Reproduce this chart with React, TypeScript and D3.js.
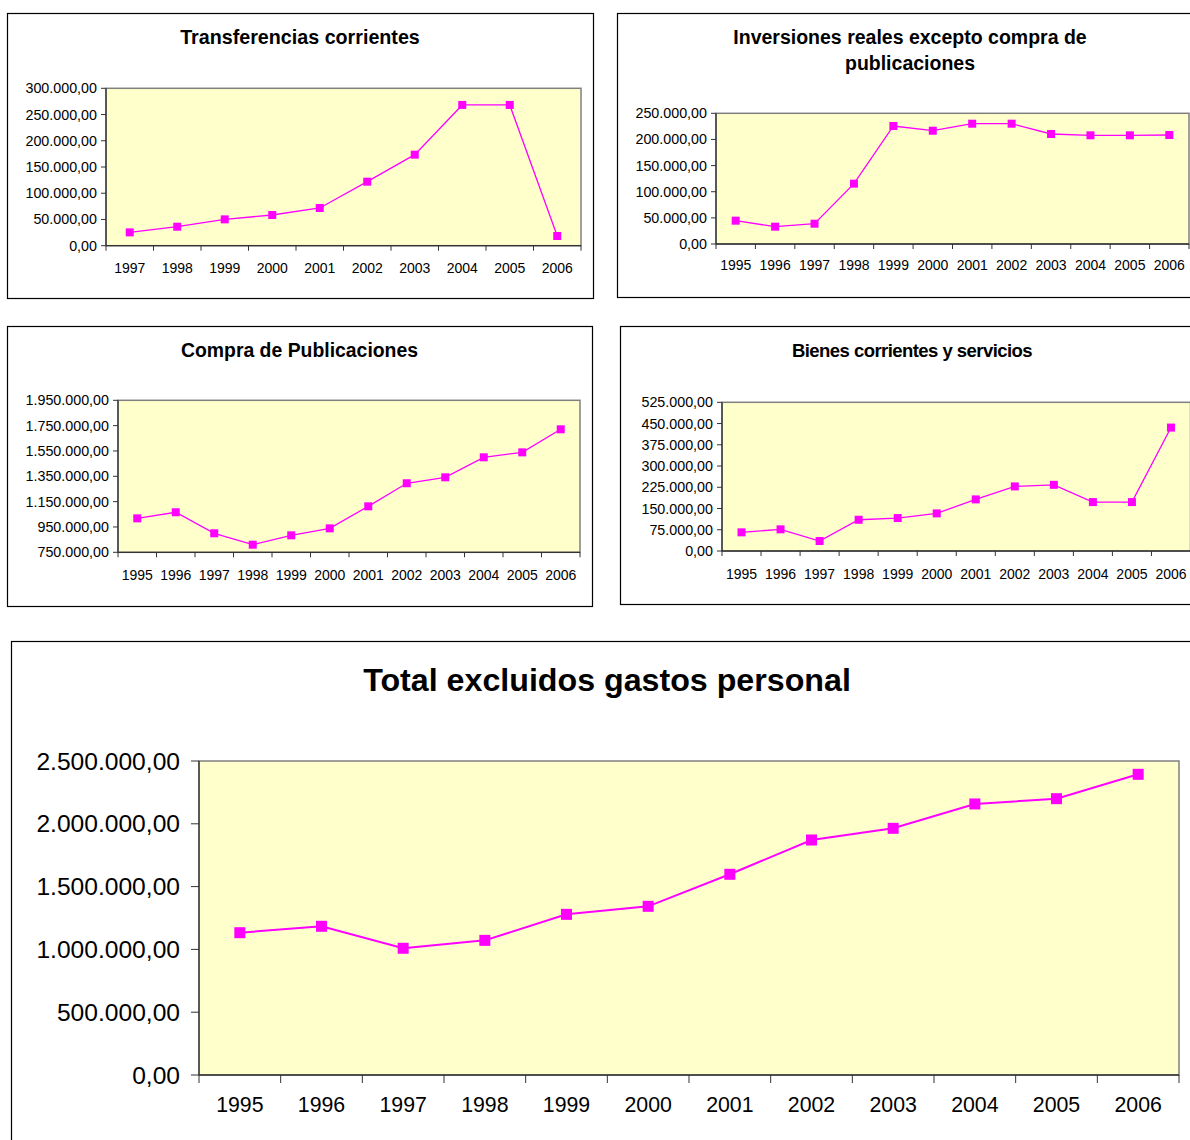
import React from 'react';
import * as d3 from 'd3';

// Years on the x axis
const years95 = ['1995', '1996', '1997', '1998', '1999', '2000', '2001', '2002', '2003', '2004', '2005', '2006'];
const years97 = ['1997', '1998', '1999', '2000', '2001', '2002', '2003', '2004', '2005', '2006'];

// Series
const transferencias = [25400, 36200, 50200, 58500, 71900, 122000, 173500, 268300, 268300, 18500];
const inversiones = [44600, 33100, 38800, 115400, 225700, 216700, 230100, 230100, 210400, 207900, 207900, 208500];
const compra = [1018000, 1066000, 900000, 810000, 884000, 939000, 1113000, 1295000, 1342000, 1500000, 1539000, 1721000];
const bienes = [65900, 76500, 35200, 110300, 116300, 132800, 182200, 228000, 233600, 172700, 172700, 435800];
const total = [1133000, 1184000, 1009000, 1072000, 1279000, 1343000, 1598000, 1871000, 1964000, 2158000, 2200000, 2394000];

// Tick values for the y axes
const ticksTransf = [0, 50000, 100000, 150000, 200000, 250000, 300000];
const ticksInv = [0, 50000, 100000, 150000, 200000, 250000];
const ticksCompra = [750000, 950000, 1150000, 1350000, 1550000, 1750000, 1950000];
const ticksBienes = [0, 75000, 150000, 225000, 300000, 375000, 450000, 525000];
const ticksTotal = [0, 500000, 1000000, 1500000, 2000000, 2500000];

const es = d3.formatLocale({ decimal: ',', thousands: '.', grouping: [3], currency: ['', ' €'] });
const fmt = es.format(',.2f');

const FONT = '"Liberation Sans", Arial, sans-serif';
const MAGENTA = '#FF00FF';

interface PanelProps {
  title: string[];
  titleY: number;
  titleSize: number;
  titleSpacing?: number;
  box: [number, number, number, number];
  plot: { left: number; right: number; top: number; bottom: number };
  cats: string[];
  values: number[];
  ticks: number[];
  yLabelSize: number;
  xLabelSize: number;
  xLabelY: number;
  tickLen: number;
  yLabelGap: number;
  marker: number;
  lineWidth: number;
}

const Panel = (p: PanelProps) => {
  const x = d3.scaleBand().domain(p.cats).range([p.plot.left, p.plot.right]);
  const y = d3
    .scaleLinear()
    .domain([p.ticks[0], p.ticks[p.ticks.length - 1]])
    .range([p.plot.bottom, p.plot.top]);
  const cx = (c: string) => (x(c) || 0) + x.bandwidth() / 2;
  const line = d3
    .line<number>()
    .x((_, i) => cx(p.cats[i]))
    .y((d) => y(d));
  const [bx, by, bw, bh] = p.box;
  const titleCx = bx + bw / 2;
  const bounds = p.cats.map((c) => x(c) || 0).concat([p.plot.right]);

  return (
    <g>
      <rect x={bx + 0.5} y={by + 0.5} width={bw} height={bh} fill="#fff" stroke="#000" strokeWidth={1.2} />
      {p.title.map((t, i) => (
        <text
          key={i}
          x={titleCx}
          y={p.titleY + i * p.titleSize * 1.32}
          textAnchor="middle"
          dominantBaseline="central"
          fontFamily={FONT}
          fontWeight="bold"
          fontSize={p.titleSize}
          letterSpacing={p.titleSpacing || 0}
        >
          {t}
        </text>
      ))}
      <rect
        x={p.plot.left}
        y={p.plot.top}
        width={p.plot.right - p.plot.left}
        height={p.plot.bottom - p.plot.top}
        fill="#FFFFCC"
        stroke="#808080"
        strokeWidth={1.5}
      />
      {/* y axis */}
      <line x1={p.plot.left} x2={p.plot.left} y1={p.plot.top} y2={p.plot.bottom} stroke="#333" strokeWidth={1.3} />
      {p.ticks.map((t) => (
        <g key={t}>
          <line x1={p.plot.left - p.tickLen} x2={p.plot.left} y1={y(t)} y2={y(t)} stroke="#333" strokeWidth={1} />
          <text
            x={p.plot.left - p.yLabelGap}
            y={y(t)}
            textAnchor="end"
            dominantBaseline="central"
            fontFamily={FONT}
            fontSize={p.yLabelSize}
            fill="#000"
          >
            {fmt(t)}
          </text>
        </g>
      ))}
      {/* x axis */}
      <line x1={p.plot.left} x2={p.plot.right} y1={p.plot.bottom} y2={p.plot.bottom} stroke="#333" strokeWidth={1.3} />
      {bounds.map((b, i) => (
        <line key={i} x1={b} x2={b} y1={p.plot.bottom} y2={p.plot.bottom + p.tickLen} stroke="#333" strokeWidth={1} />
      ))}
      {p.cats.map((c) => (
        <text
          key={c}
          x={cx(c)}
          y={p.xLabelY}
          textAnchor="middle"
          dominantBaseline="central"
          fontFamily={FONT}
          fontSize={p.xLabelSize}
          fill="#000"
        >
          {c}
        </text>
      ))}
      <path d={line(p.values) || ''} fill="none" stroke={MAGENTA} strokeWidth={p.lineWidth} />
      {p.values.map((v, i) => (
        <rect
          key={i}
          x={cx(p.cats[i]) - p.marker / 2}
          y={y(v) - p.marker / 2}
          width={p.marker}
          height={p.marker}
          fill={MAGENTA}
        />
      ))}
    </g>
  );
};

const small = { yLabelSize: 14.3, xLabelSize: 14, tickLen: 5, yLabelGap: 9, marker: 8, lineWidth: 1.3 };

export default function App() {
  return (
    <svg
      width={1190}
      height={1140}
      style={{ position: 'absolute', left: 0, top: 0, background: '#fff' }}
    >
      <Panel
        {...small}
        title={['Transferencias corrientes']}
        titleY={37}
        titleSize={19.7}
        box={[7, 13, 586, 285]}
        plot={{ left: 106, right: 581, top: 88.3, bottom: 245.7 }}
        cats={years97}
        values={transferencias}
        ticks={ticksTransf}
        xLabelY={268}
      />
      <Panel
        {...small}
        title={['Inversiones reales excepto compra de', 'publicaciones']}
        titleY={37}
        titleSize={19.5}
        box={[617, 13, 586, 284]}
        plot={{ left: 716, right: 1189, top: 113.3, bottom: 244 }}
        cats={years95}
        values={inversiones}
        ticks={ticksInv}
        xLabelY={265}
      />
      <Panel
        {...small}
        title={['Compra de Publicaciones']}
        titleY={350}
        titleSize={19.4}
        box={[7, 326, 585, 280]}
        plot={{ left: 118, right: 580, top: 400.3, bottom: 552.3 }}
        cats={years95}
        values={compra}
        ticks={ticksCompra}
        xLabelY={575}
      />
      <Panel
        {...small}
        title={['Bienes corrientes y servicios']}
        titleY={350}
        titleSize={18.5}
        titleSpacing={-0.55}
        box={[620, 326, 584, 278]}
        plot={{ left: 722, right: 1190.5, top: 402.3, bottom: 551 }}
        cats={years95}
        values={bienes}
        ticks={ticksBienes}
        xLabelY={574}
      />
      <Panel
        title={['Total excluidos gastos personal']}
        titleY={680}
        titleSize={32.2}
        box={[11, 641, 1192, 520]}
        plot={{ left: 199, right: 1179, top: 761, bottom: 1075 }}
        cats={years95}
        values={total}
        ticks={ticksTotal}
        yLabelSize={24.6}
        xLabelSize={21.3}
        xLabelY={1105}
        tickLen={8}
        yLabelGap={19}
        marker={11}
        lineWidth={2}
      />
    </svg>
  );
}
